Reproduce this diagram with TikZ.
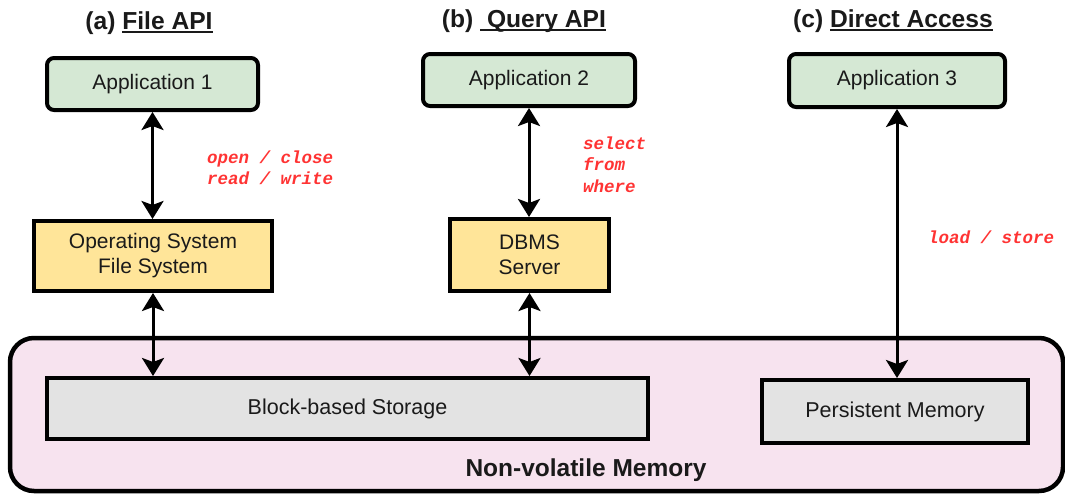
\documentclass[tikz,border=0pt]{standalone}
\usepackage{fontspec}
\setmainfont{Liberation Sans}
\newfontfamily\codefont{Liberation Mono}
\usetikzlibrary{arrows.meta}
\definecolor{appfill}{HTML}{D5E8D4}
\definecolor{sysfill}{HTML}{FFE599}
\definecolor{storefill}{HTML}{E3E3E3}
\definecolor{nvmfill}{HTML}{F7E3EF}
\definecolor{opred}{HTML}{FF3333}
\definecolor{ink}{HTML}{1A1A1A}
% thick underline for the column headings
\newcommand\headbar[1]{\setbox0\hbox{#1}\rlap{\rule[-3.6pt]{\wd0}{1.8pt}}\box0}
\tikzset{
  appbox/.style={draw=black, line width=4pt, rounded corners=7pt, fill=appfill,
    text=ink, font=\fontsize{21}{25}\selectfont, inner sep=0pt},
  sysbox/.style={draw=black, line width=4pt, fill=sysfill, text=ink,
    font=\fontsize{21}{25}\selectfont, align=center, inner sep=0pt},
  storebox/.style={draw=black, line width=4pt, fill=storefill, text=ink,
    font=\fontsize{21.5}{25}\selectfont, inner sep=0pt},
  heading/.style={font=\bfseries\fontsize{24.6}{28}\selectfont, text=ink, inner sep=0pt},
  opslabel/.style={font=\codefont\bfseries\itshape\fontsize{17.5}{21.5}\selectfont,
    text=opred, align=left, anchor=west, inner sep=0pt},
  link/.style={line width=3pt, {Stealth[length=18pt,width=22pt,inset=4pt]}-{Stealth[length=18pt,width=22pt,inset=4pt]}},
}
\begin{document}
\begin{tikzpicture}[x=1pt,y=-1pt]
\useasboundingbox (0,0) rectangle (1065,493);

% enclosing non-volatile memory region
\draw[line width=4.5pt, fill=nvmfill, rounded corners=24pt] (10,338) rectangle (1063,491);
\node[font=\bfseries\fontsize{24.5}{28}\selectfont, text=ink] (nvmlabel) at (586,470) {Non-volatile Memory};

% column headings
\node[heading] (ha) at (149,23) {(a) \headbar{File API}};
\node[heading] (hb) at (524,21) {(b) \headbar{\ Query API}};
\node[heading] (hc) at (893,21) {(c) \headbar{Direct Access}};

% applications
\node[appbox, minimum width=211pt, minimum height=52pt] (app1) at (152.5,84) {Application 1};
\node[appbox, minimum width=212pt, minimum height=52pt] (app2) at (529,80) {Application 2};
\node[appbox, minimum width=216pt, minimum height=53pt] (app3) at (897,80.5) {Application 3};

% system software layers
\node[sysbox, minimum width=238pt, minimum height=70pt] (os) at (153,256) {Operating System\\File System};
\node[sysbox, minimum width=159pt, minimum height=72pt] (dbms) at (529.5,255) {DBMS\\Server};

% storage devices
\node[storebox, minimum width=601pt, minimum height=61pt] (block) at (347.5,408.5) {Block-based Storage};
\node[storebox, minimum width=266pt, minimum height=63pt] (pm) at (895,411.5) {Persistent Memory};

% access paths
\draw[link] (app1.south) -- (app1.south |- os.north);
\draw[link] (os.south) -- (os.south |- block.north);
\draw[link] (app2.south) -- (app2.south |- dbms.north);
\draw[link] (dbms.south) -- (dbms.south |- block.north);
\draw[link] (app3.south) -- (app3.south |- pm.north);

% operations on each path
\node[opslabel] (opsa) at (207,167.5) {open / close\\read / write};
\node[opslabel] (opsb) at (583,164.5) {select\\from\\where};
\node[opslabel] (opsc) at (928,237) {load / store};
\end{tikzpicture}
\end{document}
